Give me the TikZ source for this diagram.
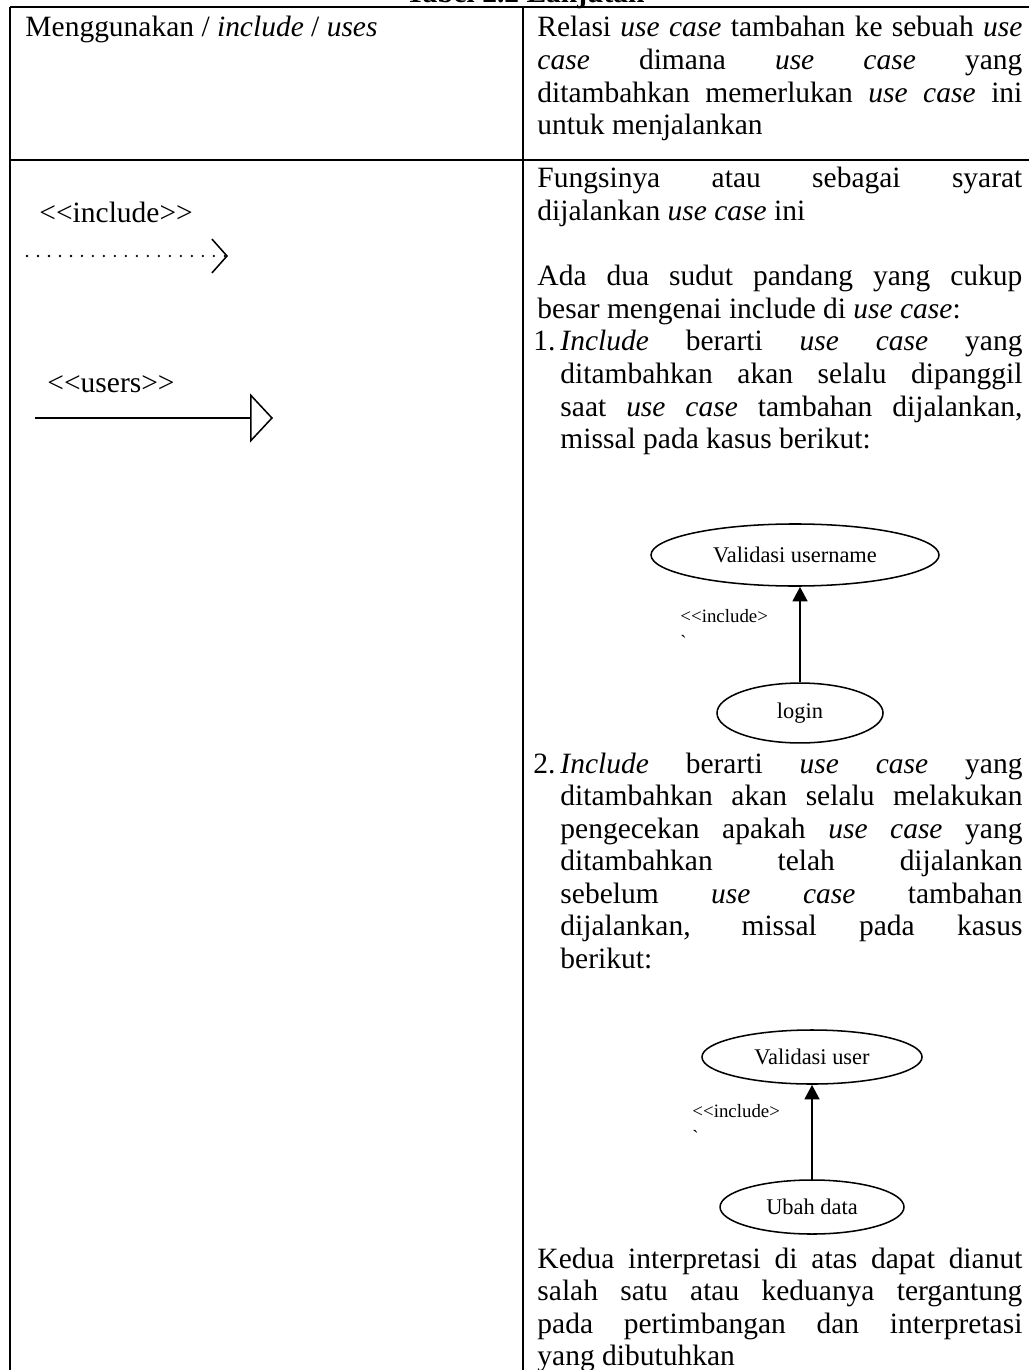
\documentclass[tikz,border=0pt]{standalone}
\usepackage{fontspec}
\setmainfont{Liberation Serif}
\usetikzlibrary{shapes.geometric, arrows.meta}

% glyphs taken straight from the font (no << >> ligatures)
\newcommand\rawchar[1]{\XeTeXglyph\XeTeXcharglyph"#1\relax}
\newcommand\lt{\rawchar{3C}}
\newcommand\gt{\rawchar{3E}}
\newcommand\bodyfont{\fontsize{12.5}{13.82}\selectfont}

\tikzset{
  cell/.style={anchor=base west, inner sep=0pt, text width=205.6pt,
    align=justify, font=\bodyfont},
  listtext/.style={cell, text width=195.9pt},
  usecase/.style={draw, ellipse, line width=0.65pt, inner sep=0pt,
    font=\fontsize{9.5}{11}\selectfont},
  inclabel/.style={anchor=base west, inner sep=0pt, align=left,
    font=\fontsize{8}{11}\selectfont},
  incarrow/.style={line width=1.2pt, -{Triangle[length=6.2pt, width=6.2pt]}},
  outerrule/.style={line width=0.85pt},
  innerrule/.style={line width=0.5pt},
}

\begin{document}
\begin{tikzpicture}[x=0.424pt, y=-0.424pt]
  \useasboundingbox (0,0) rectangle (1028,1370);

  % Caption (cut off by the page)
  \node[anchor=base, inner sep=0pt, font=\bfseries\bodyfont] (caption)
    at (525,3) {Tabel 2.2 Lanjutan};

  % Table rules
  \draw[outerrule] (10,7) -- (1032,7);
  \draw[outerrule] (10,7) -- (10,1374);
  \draw[innerrule] (523,7) -- (523,1374);
  \draw[innerrule] (10,160) -- (1032,160);

  % Row 1
  \node[anchor=base west, inner sep=0pt, font=\bodyfont] (relname) at (25,37)
    {Menggunakan / \emph{include} / \emph{uses}};
  \node[cell] (reldesc) at (537,37)
    {Relasi \emph{use case} tambahan ke sebuah \emph{use}\linebreak
     \emph{case} dimana \emph{use} \emph{case} yang\linebreak
     ditambahkan memerlukan \emph{use case} ini\linebreak
     untuk menjalankan};

  % Row 2, left: notation
  \node[anchor=base west, inner sep=0pt, font=\bodyfont] (inctext) at (39,223)
    {\lt\lt include\gt\gt};
  \coordinate (incstart) at (27,256);
  \coordinate (incend) at (228,256);
  \draw[line width=1.1pt, line cap=round, dash pattern=on 0pt off 4.66pt,
    -{Straight Barb[length=6.4pt, width=14.4pt, line width=0.65pt]}]
    (incstart) -- (incend);

  \node[anchor=base west, inner sep=0pt, font=\bodyfont] (usetext) at (47,393)
    {\lt\lt users\gt\gt};
  \coordinate (usestart) at (35,418);
  \coordinate (useend) at (273,418);
  \draw[line width=0.65pt, -{Triangle[open, length=9.75pt, width=20.8pt]}]
    (usestart) -- (useend);

  % Row 2, right: description
  \node[cell] (fungsi) at (537,188)
    {Fungsinya atau sebagai syarat\linebreak
     dijalankan \emph{use case} ini};
  \node[cell] (sudut) at (537,286)
    {Ada dua sudut pandang yang cukup\linebreak
     besar mengenai include di \emph{use case}:};

  \node[anchor=base west, inner sep=0pt, font=\bodyfont] (num1) at (533,351) {1.};
  \node[listtext] (item1) at (560,351)
    {\emph{Include} berarti \emph{use case} yang\linebreak
     ditambahkan akan selalu dipanggil\linebreak
     saat \emph{use case} tambahan dijalankan,\linebreak
     missal pada kasus berikut:};

  % Example 1
  \node[usecase, minimum width=122.1pt, minimum height=26.3pt] (valname)
    at (795,555) {Validasi username};
  \node[usecase, minimum width=70.4pt, minimum height=25.4pt] (login)
    at (800,713) {login};
  \draw[incarrow] (login.north) -- (login.north |- valname.south);
  \node[inclabel] (inc1) at (680,648) {\lt\lt include\gt\\\rawchar{60}};

  \node[anchor=base west, inner sep=0pt, font=\bodyfont] (num2) at (533,773) {2.};
  \node[listtext] (item2) at (560,773)
    {\emph{Include} berarti \emph{use case} yang\linebreak
     ditambahkan akan selalu melakukan\linebreak
     pengecekan apakah \emph{use case} yang\linebreak
     ditambahkan telah dijalankan\linebreak
     sebelum \emph{use case} tambahan\linebreak
     dijalankan, missal pada kasus\linebreak
     berikut:};

  % Example 2
  \node[usecase, minimum width=93.3pt, minimum height=22.9pt] (valuser)
    at (812,1057) {Validasi user};
  \node[usecase, minimum width=78pt, minimum height=22.9pt] (ubah)
    at (812,1207) {Ubah data};
  \draw[incarrow] (ubah.north) -- (ubah.north |- valuser.south);
  \node[inclabel] (inc2) at (692,1143) {\lt\lt include\gt\\\rawchar{60}};

  \node[cell] (kedua) at (537,1268)
    {Kedua interpretasi di atas dapat dianut\linebreak
     salah satu atau keduanya tergantung\linebreak
     pada pertimbangan dan interpretasi\linebreak
     yang dibutuhkan};
\end{tikzpicture}
\end{document}
